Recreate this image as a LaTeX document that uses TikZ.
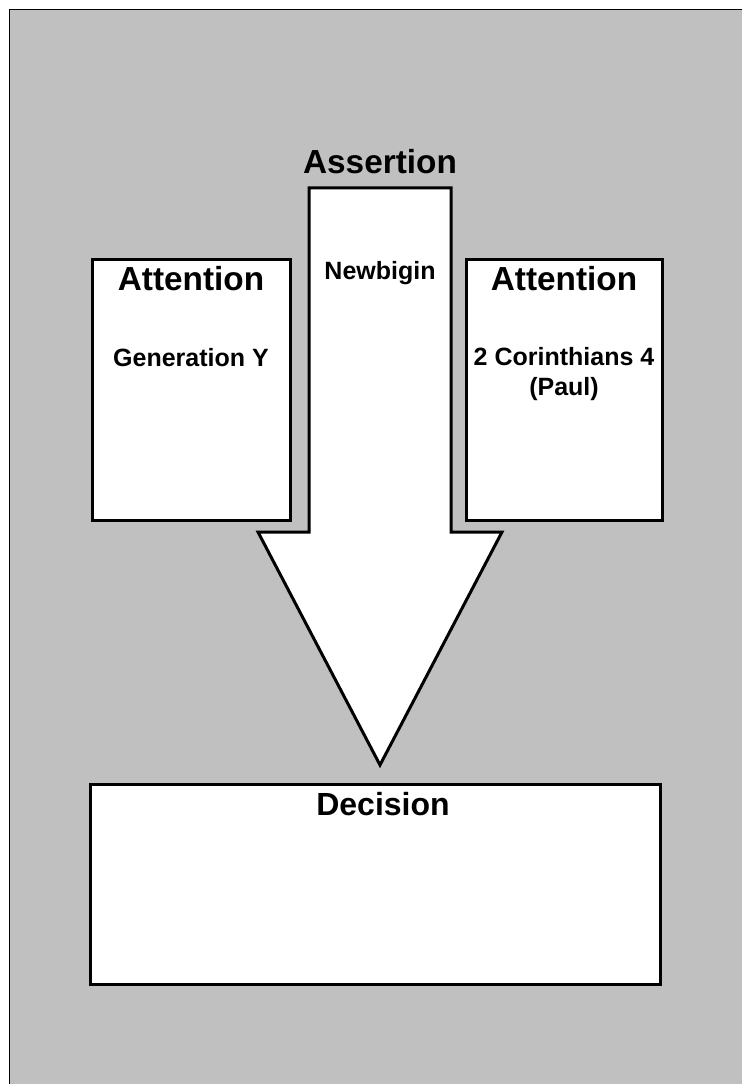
\documentclass[tikz,border=0pt]{standalone}
\usepackage{fontspec}
\setmainfont{Liberation Sans}
\usepackage{tikz}
\definecolor{paper}{RGB}{192,192,192}

\begin{document}
\begin{tikzpicture}[x=0.75pt, y=-0.75pt]
    \tikzstyle{panel} = [rectangle, draw, line width=2.25pt, fill=white, inner sep=0pt]
    \tikzstyle{heading} = [font=\fontsize{25}{30}\selectfont\bfseries, inner sep=0pt]
    \tikzstyle{body} = [font=\fontsize{18.75}{23}\selectfont\bfseries, align=center, inner sep=0pt]

    \useasboundingbox (0,0) rectangle (742,1084);
    \fill[white] (0,0) rectangle (742,1084);
    \fill[paper] (9,10) rectangle (742,1084);
    \draw[line width=0.75pt] (9,1084) -- (9,10) -- (742,10);

    \node[panel, minimum width=148.5pt, minimum height=195.75pt] (gen) at (191,390) {};
    \node[panel, minimum width=147pt, minimum height=195.75pt] (paul) at (564,390) {};
    \node[panel, minimum width=427.5pt, minimum height=150pt] (decision) at (375,884) {};

    % the big arrow
    \draw[line width=2.25pt, fill=white, line join=miter]
        (309,188) -- (451,188) -- (451,532) -- (502,532) -- (380,765)
        -- (258,532) -- (309,532) -- cycle;

    \node[heading] (assertion) at (380,162) {Assertion};
    \node[body] (newbigin) at (380,273) {Newbigin};
    \node[heading] (att1) at (191,279) {Attention};
    \node[body] (genY) at (191,358) {Generation Y};
    \node[heading] (att2) at (564,279) {Attention};
    \node[body] (cor) at (564,374) {2 Corinthians 4\\(Paul)};
    \node[font=\fontsize{24}{28}\selectfont\bfseries, inner sep=0pt] (dec) at (383,804) {Decision};
\end{tikzpicture}
\end{document}
